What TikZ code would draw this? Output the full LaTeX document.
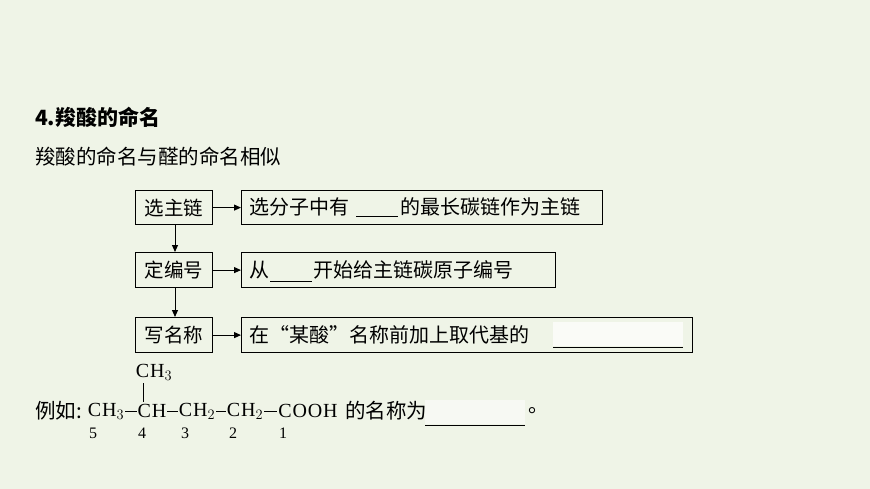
\documentclass[tikz,border=0pt]{standalone}
\usepackage{fontspec}
\setmainfont{Liberation Serif}
\newfontfamily\cjk{Noto Sans CJK SC}
\usetikzlibrary{arrows.meta}
\begin{document}
\begin{tikzpicture}[x=1pt,y=-1pt,
  box/.style={draw,line width=1.2pt,anchor=north west,inner sep=0pt,font=\cjk\fontsize{19.5}{19.5}\selectfont},
  txt/.style={inner sep=0pt,font=\cjk\fontsize{20.5}{20.5}\selectfont},
  btxt/.style={inner sep=0pt,anchor=west,font=\cjk\fontsize{20}{20}\selectfont},
  chem/.style={inner sep=0pt,font=\fontsize{20}{20}\selectfont\addfontfeature{LetterSpace=4}},
  num/.style={inner sep=0pt,font=\fontsize{16}{16}\selectfont},
  arr/.style={line width=1pt,-{Triangle[length=7pt,width=6pt]}},
  bond/.style={line width=0.8pt}]
\fill[fill={rgb,255:red,239;green,244;blue,231}] (0,0) rectangle (870,489);
\useasboundingbox (0,0) rectangle (870,489);
\node[txt,anchor=west,font=\cjk\bfseries\fontsize{21}{21}\selectfont] (t1) at (35,117) {4.羧酸的命名};
\node[txt,anchor=west] (t2) at (35,157) {羧酸的命名与醛的命名相似};
% left boxes
\node[box,minimum width=77pt,minimum height=34pt] (a1) at (135,190) {选主链};
\node[box,minimum width=77pt,minimum height=35pt] (a2) at (135,252) {定编号};
\node[box,minimum width=77pt,minimum height=35pt] (a3) at (135,317) {写名称};
% right boxes
\node[box,minimum width=361pt,minimum height=34pt] (b1) at (241,190) {};
\node[box,minimum width=314pt,minimum height=35pt] (b2) at (241,252) {};
\node[box,minimum width=451pt,minimum height=35pt] (b3) at (241,317) {};
\node[btxt] (c1a) at (249,207) {选分子中有};
\draw[line width=1pt] (356,217) -- (398,217);
\node[btxt] (c1b) at (400,207) {的最长碳链作为主链};
\node[btxt] (c2a) at (249,270) {从};
\draw[line width=1pt] (270,281) -- (312,281);
\node[btxt] (c2b) at (313,270) {开始给主链碳原子编号};
\node[btxt] (c3a) at (249,335) {在“某酸”名称前加上取代基的};
\fill[white,opacity=0.7] (553,322) rectangle (683,346);
\draw[line width=1pt] (553,347) -- (683,347);
\draw[arr] (a1.east) -- (b1.west);
\draw[arr] (a2.east) -- (b2.west);
\draw[arr] (a3.east) -- (b3.west);
\draw[arr] (a1.south-|175,0) -- (a2.north-|175,0);
\draw[arr] (a2.south-|175,0) -- (a3.north-|175,0);
% example
\node[txt,anchor=west] (eg) at (35,411) {例如:};
\node[chem] (g5) at (106,411) {CH$_3$};
\node[chem] (g4) at (152,411) {CH};
\node[chem] (g3) at (197,411) {CH$_2$};
\node[chem] (g2) at (245,411) {CH$_2$};
\node[chem] (g1) at (308,411) {COOH};
\node[chem] (gt) at (154,372) {CH$_3$};
\node[num] (n5) at (93,433) {5};
\node[num] (n4) at (142,433) {4};
\node[num] (n3) at (185,433) {3};
\node[num] (n2) at (233,433) {2};
\node[num] (n1) at (283,433) {1};
\draw[bond] ([xshift=1pt]g5.east) -- ([xshift=-1pt]g4.west);
\draw[bond] ([xshift=1pt]g4.east) -- ([xshift=-1pt]g3.west);
\draw[bond] ([xshift=1pt]g3.east) -- ([xshift=-1pt]g2.west);
\draw[bond] ([xshift=1pt]g2.east) -- ([xshift=-1pt]g1.west);
\draw[bond] ([yshift=-3pt]gt.south-|143,0) -- ([yshift=2pt]g4.north-|143,0);
\node[txt,anchor=west] (nm) at (345,411) {的名称为};
\fill[white,opacity=0.5] (425,400) rectangle (525,424);
\draw[line width=0.8pt] (425,425) -- (525,425);
\node[txt,anchor=west] (dot) at (528,411) {。};
\end{tikzpicture}
\end{document}
